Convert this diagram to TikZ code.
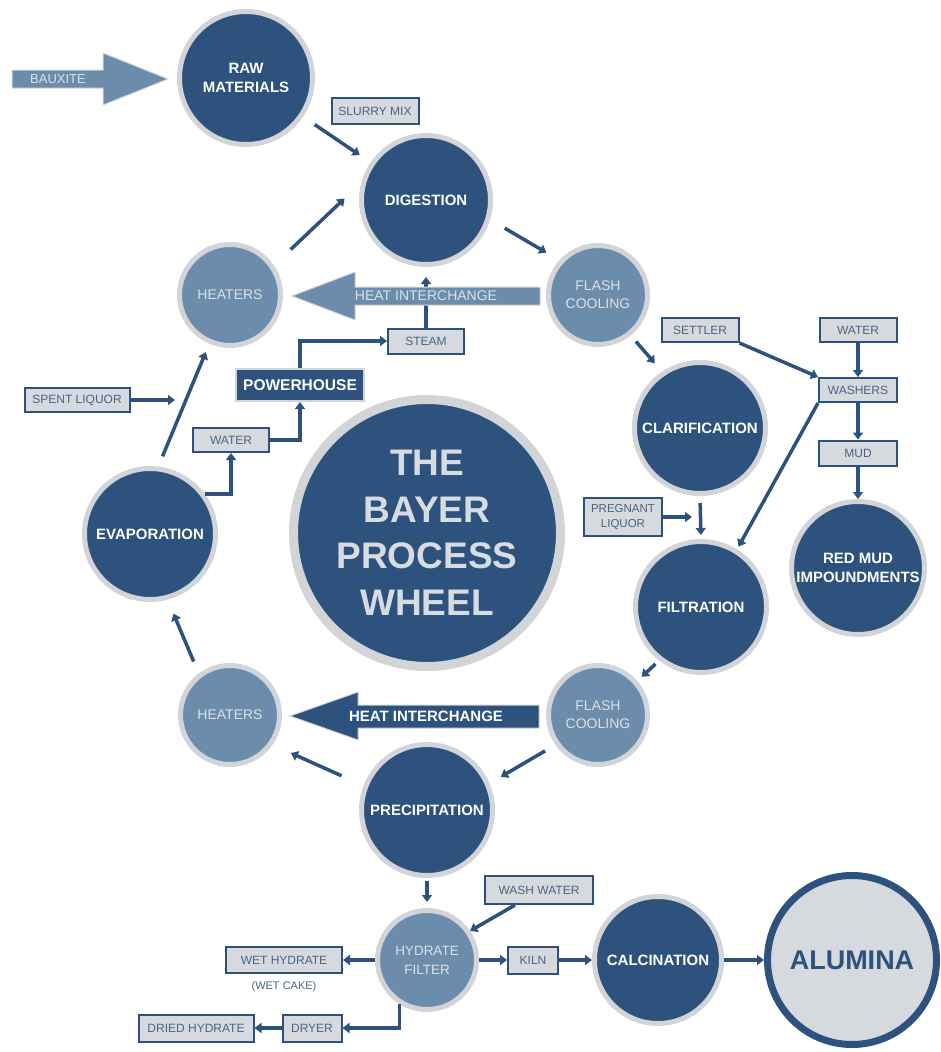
\documentclass[tikz,border=0pt]{standalone}
\usepackage{fontspec}
\setmainfont{Liberation Sans}
\usetikzlibrary{positioning, arrows.meta}

\definecolor{baydark}{HTML}{2C527D}
\definecolor{baylight}{HTML}{6B8CAA}
\definecolor{ring}{HTML}{D2D4D7}
\definecolor{tagfill}{HTML}{D6D9DD}
\definecolor{tagtext}{HTML}{4B6487}
\definecolor{paletext}{HTML}{DCE1E7}
\definecolor{wheeltext}{HTML}{D7DCE2}

\begin{document}
\begin{tikzpicture}[
    x=1pt, y=-1pt,
    on grid,
    stage/.style={circle, draw=ring, line width=5pt, fill=baydark, text=white, inner sep=0pt, align=center, font=\bfseries\fontsize{15}{19}\selectfont},
    minor/.style={stage, fill=baylight, text=paletext, font=\fontsize{14}{18}\selectfont},
    tag/.style={rectangle, draw=baydark, line width=2pt, fill=tagfill, text=tagtext, inner sep=0pt, align=center, font=\fontsize{12}{14}\selectfont},
    flow/.style={draw=baydark, line width=3.5pt, -{Triangle[length=7pt,width=10pt]}},
    every edge/.append style={flow}
]
   \useasboundingbox (0,0) rectangle (941,1052);

   % Stages of the wheel
   \node[stage, minimum size=133pt] (raw) at (246,78) {RAW\\MATERIALS};
   \node[stage, minimum size=129pt] (dig) at (426,200) {DIGESTION};
   \node[minor, minimum size=101pt] (heatT) at (230,295) {HEATERS};
   \node[minor, minimum size=99pt] (flashT) at (598,295) {FLASH\\COOLING};
   \node[stage, minimum size=131pt] (clar) at (700,428) {CLARIFICATION};
   \node[stage, minimum size=131pt] (filt) at (701,607) {FILTRATION};
   \node[minor, minimum size=99pt] (flashB) at (598,715) {FLASH\\COOLING};
   \node[stage, minimum size=131pt] (prec) at (427,810) {PRECIPITATION};
   \node[minor, minimum size=99pt] (heatB) at (230,715) {HEATERS};
   \node[stage, minimum size=131pt] (evap) at (150,534) {EVAPORATION};
   \node[stage, line width=9pt, minimum size=267pt, text=wheeltext, font=\bfseries\fontsize{37}{46.5}\selectfont] (wheel) at (427,533) {THE\\BAYER\\PROCESS\\WHEEL};

   % Product line
   \node[minor, minimum size=99pt, font=\fontsize{13.5}{19}\selectfont] (hyd) at (427,960) {HYDRATE\\FILTER};
   \node[tag, minimum width=50pt, minimum height=27pt] (kiln) [right=106pt of hyd] {KILN};
   \node[stage, minimum size=127pt] (calc) [right=125pt of kiln] {CALCINATION};
   \node[stage, fill=tagfill, draw=baydark, line width=7pt, text=baydark, minimum size=169pt, font=\bfseries\fontsize{27}{30}\selectfont] (alum) [right=194pt of calc] {ALUMINA};
   \node[tag, minimum width=108pt, minimum height=28pt] (wash) [above right=70pt and 112pt of hyd] {WASH WATER};
   \node[tag, minimum width=116pt, minimum height=26pt] (wet) [left=143pt of hyd] {WET HYDRATE};
   \node[text=tagtext, font=\fontsize{11}{13}\selectfont] (cake) [below=27pt of wet] {(WET CAKE)};
   \node[tag, minimum width=59pt, minimum height=27pt] (dryer) [below left=68pt and 115pt of hyd] {DRYER};
   \node[tag, minimum width=115pt, minimum height=27pt] (dried) [left=116pt of dryer] {DRIED HYDRATE};

   % Side boxes
   \node[tag, minimum width=87pt, minimum height=26pt] (slurry) at (375,111) {SLURRY MIX};
   \node[tag, minimum width=76pt, minimum height=25pt] (steam) [below=141pt of dig] {STEAM};
   \node[tag, fill=baydark, draw=ring, text=white, minimum width=128pt, minimum height=32pt, font=\bfseries\fontsize{15.5}{18}\selectfont] (pwr) at (300,385) {POWERHOUSE};
   \node[tag, minimum width=105pt, minimum height=24pt] (spent) at (77,400) {SPENT LIQUOR};
   \node[tag, minimum width=76pt, minimum height=24pt] (water) at (231,440) {WATER};
   \node[tag, minimum width=77pt, minimum height=24pt] (water2) at (858,330) {WATER};
   \node[tag, minimum width=77pt, minimum height=24pt] (settler) [left=158pt of water2] {SETTLER};
   \node[tag, minimum width=78pt, minimum height=24pt] (washers) [below=60pt of water2] {WASHERS};
   \node[tag, minimum width=78pt, minimum height=25pt] (mud) [below=63pt of washers] {MUD};
   \node[stage, minimum size=133pt] (redmud) [below=115pt of mud] {RED MUD\\IMPOUNDMENTS};
   \node[tag, minimum width=78pt, minimum height=38pt, font=\fontsize{11.5}{14.5}\selectfont] (preg) at (623,517) {PREGNANT\\LIQUOR};

   \coordinate (spentend) at (175,400);
   \coordinate (pregend) at (692,517);

   % Steam up to digestion, under the heat interchange arrow
   \draw[flow, shorten >=10pt] (steam.north) -- (dig.south);

   % Heat interchange arrows
   \filldraw[fill=baylight, draw=ring, line width=1pt] (12,70) -- (103,70) -- (103,53) -- (168,79) -- (103,105) -- (103,88) -- (12,88) -- cycle;
   \node[text=paletext, font=\fontsize{13}{15}\selectfont] (bauxite) at (58,79) {BAUXITE};
   \filldraw[fill=baylight, draw=ring, line width=1pt] (540,287) -- (355,287) -- (355,272) -- (292,296) -- (355,320) -- (355,305) -- (540,305) -- cycle;
   \node[text=paletext, font=\fontsize{14}{16}\selectfont] (hxT) at (426,296) {HEAT INTERCHANGE};
   \filldraw[fill=baydark, draw=ring, line width=1pt] (539,705) -- (358,705) -- (358,692) -- (290,716) -- (358,740) -- (358,728) -- (539,728) -- cycle;
   \node[text=white, font=\bfseries\fontsize{15}{17}\selectfont] (hxB) at (426,716) {HEAT INTERCHANGE};

   % Flows round the wheel
   \path
   (raw) edge[shorten <=14pt, shorten >=13pt] (dig)
   (heatT.34) edge[shorten <=23pt, shorten >=23pt] (dig.165)
   (dig.-17) edge[shorten <=17pt, shorten >=15pt] (flashT.138)
   (flashT.-51) edge[shorten <=8pt, shorten >=11pt] (clar.124)
   (clar.south) edge[shorten <=7pt, shorten >=4pt] (filt.north)
   (filt.232) edge[shorten <=5pt, shorten >=6pt] (flashB.41)
   (flashB.215) edge[shorten <=12pt, shorten >=13pt] (prec.23)
   (prec.159) edge[shorten <=24pt, shorten >=20pt] (heatB.-35)
   (heatB.127) edge[shorten <=13pt, shorten >=15pt] (evap.-75)
   (evap.83) edge[shorten <=11pt, shorten >=9pt] (heatT.247);

   % Side flows
   \draw[flow] (pwr.north) |- (steam.west);
   \draw[flow] (water.east) -| (pwr.south);
   \draw[flow] (evap.36) -| (water.south);
   \draw[flow] (spent.east) -- (spentend);
   \path
   (settler.south east) edge (washers.north west)
   (water2) edge (washers)
   (washers) edge (mud)
   (mud) edge (redmud)
   (washers.south west) edge[shorten >=3pt] (filt.58)
   (preg.east) edge (pregend);

   % Product flows
   \path
   (prec.south) edge[shorten <=3pt, shorten >=6pt] (hyd.north)
   (wash.212) edge (hyd.34)
   (hyd) edge (wet)
   (hyd) edge (kiln)
   (kiln) edge (calc)
   (calc) edge (alum)
   (dryer) edge (dried);
   \draw[flow] (hyd.238) |- (dryer.east);
\end{tikzpicture}
\end{document}
